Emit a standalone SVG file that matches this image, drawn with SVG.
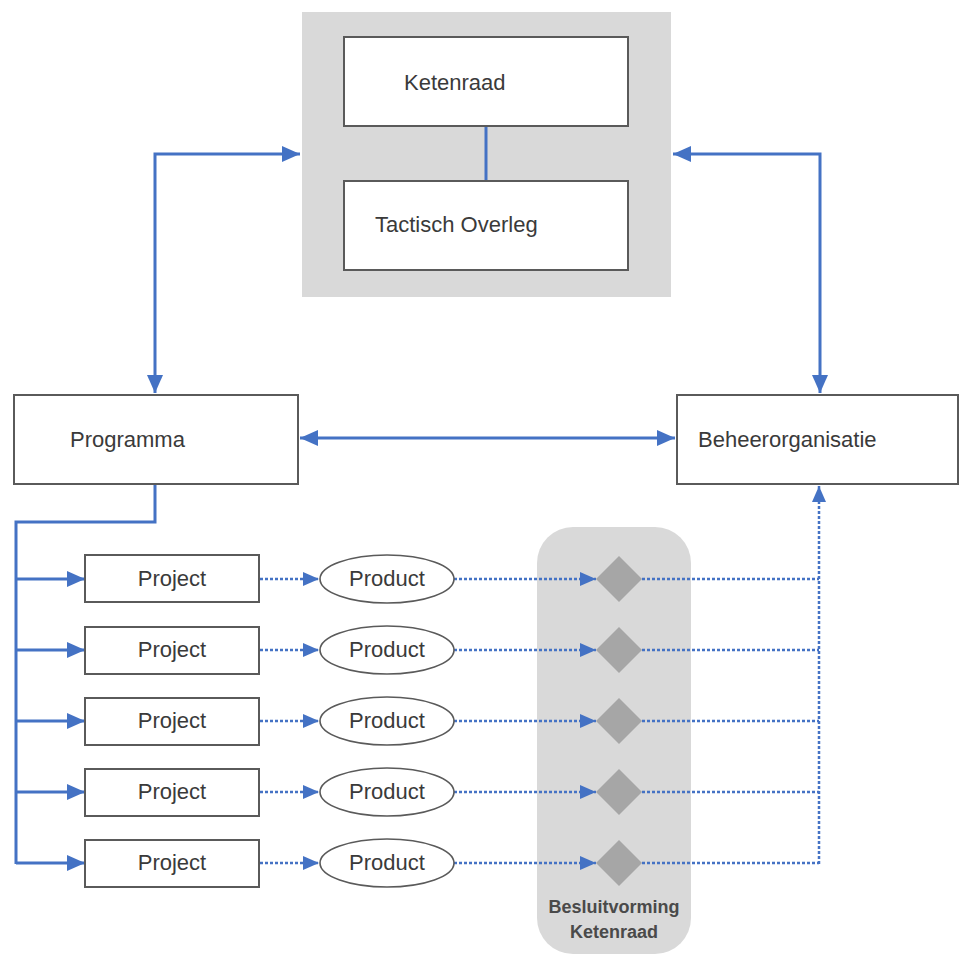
<svg xmlns="http://www.w3.org/2000/svg" width="960" height="956" viewBox="0 0 960 956">
<style>
.bg{fill:#d9d9d9}
.box{fill:#fff;stroke:#5a5a5a;stroke-width:2}
.ell{fill:#fff;stroke:#5a5a5a;stroke-width:1.6}
.dia{fill:#a6a6a6}
.t{font-family:"Liberation Sans",Arial,sans-serif;font-size:22px;fill:#3a3a3a}
.c{text-anchor:middle}
.b{font-size:18px;font-weight:bold;fill:#4a4a4a}
.s{fill:none;stroke:#4472c4;stroke-width:3}
.d{fill:none;stroke:#4472c4;stroke-width:2.5;stroke-dasharray:3 2}
</style>
<defs>
<marker id="a" markerUnits="userSpaceOnUse" markerWidth="18" markerHeight="16" viewBox="0 0 18 16" refX="18" refY="8" orient="auto-start-reverse">
<path d="M0,0 L18,8 L0,16 z" fill="#4472c4"/>
</marker>
<marker id="ad" markerUnits="userSpaceOnUse" markerWidth="16" markerHeight="14" viewBox="0 0 16 14" refX="16" refY="7" orient="auto">
<path d="M0,0 L16,7 L0,14 z" fill="#4472c4"/>
</marker>
</defs>

<g id="bestuur">
<rect class="bg" x="302" y="12" width="369" height="285"/>
</g>
<g id="besluitvorming">
<rect class="bg" x="537" y="527" width="154" height="427" rx="36"/>
<text class="t b c" x="614" y="913">Besluitvorming</text>
<text class="t b c" x="614" y="938">Ketenraad</text>
</g>

<g id="connectors">
<line class="s" x1="486" y1="126" x2="486" y2="181"/>
<path class="s" d="M155,393 V154 H300" marker-start="url(#a)" marker-end="url(#a)"/>
<path class="s" d="M820,393 V154 H673" marker-start="url(#a)" marker-end="url(#a)"/>
<line class="s" x1="300" y1="438" x2="675" y2="438" marker-start="url(#a)" marker-end="url(#a)"/>
<path class="s" d="M155,484 V522 H16 V864"/>
<line class="s" x1="16" y1="579" x2="85" y2="579" marker-end="url(#a)"/>
<line class="s" x1="16" y1="650" x2="85" y2="650" marker-end="url(#a)"/>
<line class="s" x1="16" y1="721" x2="85" y2="721" marker-end="url(#a)"/>
<line class="s" x1="16" y1="792" x2="85" y2="792" marker-end="url(#a)"/>
<line class="s" x1="16" y1="863" x2="85" y2="863" marker-end="url(#a)"/>
<line class="d" x1="260" y1="579" x2="319" y2="579" marker-end="url(#ad)"/>
<line class="d" x1="260" y1="650" x2="319" y2="650" marker-end="url(#ad)"/>
<line class="d" x1="260" y1="721" x2="319" y2="721" marker-end="url(#ad)"/>
<line class="d" x1="260" y1="792" x2="319" y2="792" marker-end="url(#ad)"/>
<line class="d" x1="260" y1="863" x2="319" y2="863" marker-end="url(#ad)"/>
<line class="d" x1="454" y1="579" x2="596" y2="579" marker-end="url(#ad)"/>
<line class="d" x1="454" y1="650" x2="596" y2="650" marker-end="url(#ad)"/>
<line class="d" x1="454" y1="721" x2="596" y2="721" marker-end="url(#ad)"/>
<line class="d" x1="454" y1="792" x2="596" y2="792" marker-end="url(#ad)"/>
<line class="d" x1="454" y1="863" x2="596" y2="863" marker-end="url(#ad)"/>
<line class="d" x1="642" y1="579" x2="819" y2="579"/>
<line class="d" x1="642" y1="650" x2="819" y2="650"/>
<line class="d" x1="642" y1="721" x2="819" y2="721"/>
<line class="d" x1="642" y1="792" x2="819" y2="792"/>
<line class="d" x1="642" y1="863" x2="819" y2="863"/>
<line class="d" x1="819" y1="864" x2="819" y2="486" marker-end="url(#ad)"/>
</g>

<g id="ketenraad">
<rect class="box" x="344" y="37" width="284" height="89"/>
<text class="t" x="404" y="90">Ketenraad</text>
</g>
<g id="tactisch-overleg">
<rect class="box" x="344" y="181" width="284" height="89"/>
<text class="t" x="375" y="232">Tactisch Overleg</text>
</g>
<g id="programma">
<rect class="box" x="14" y="395" width="284" height="89"/>
<text class="t" x="70" y="447">Programma</text>
</g>
<g id="beheerorganisatie">
<rect class="box" x="677" y="395" width="281" height="89"/>
<text class="t" x="698" y="447">Beheerorganisatie</text>
</g>

<g id="project1"><rect class="box" x="85" y="555" width="174" height="47"/><text class="t c" x="172" y="586">Project</text></g>
<g id="project2"><rect class="box" x="85" y="627" width="174" height="47"/><text class="t c" x="172" y="657">Project</text></g>
<g id="project3"><rect class="box" x="85" y="698" width="174" height="47"/><text class="t c" x="172" y="728">Project</text></g>
<g id="project4"><rect class="box" x="85" y="769" width="174" height="47"/><text class="t c" x="172" y="799">Project</text></g>
<g id="project5"><rect class="box" x="85" y="840" width="174" height="47"/><text class="t c" x="172" y="870">Project</text></g>

<g id="product1"><ellipse class="ell" cx="387" cy="579" rx="67" ry="24"/><text class="t c" x="387" y="586">Product</text></g>
<g id="product2"><ellipse class="ell" cx="387" cy="650" rx="67" ry="24"/><text class="t c" x="387" y="657">Product</text></g>
<g id="product3"><ellipse class="ell" cx="387" cy="721" rx="67" ry="24"/><text class="t c" x="387" y="728">Product</text></g>
<g id="product4"><ellipse class="ell" cx="387" cy="792" rx="67" ry="24"/><text class="t c" x="387" y="799">Product</text></g>
<g id="product5"><ellipse class="ell" cx="387" cy="863" rx="67" ry="24"/><text class="t c" x="387" y="870">Product</text></g>

<g id="besluit1"><path class="dia" d="M619,556 L642,579 L619,602 L596,579 z"/></g>
<g id="besluit2"><path class="dia" d="M619,627 L642,650 L619,673 L596,650 z"/></g>
<g id="besluit3"><path class="dia" d="M619,698 L642,721 L619,744 L596,721 z"/></g>
<g id="besluit4"><path class="dia" d="M619,769 L642,792 L619,815 L596,792 z"/></g>
<g id="besluit5"><path class="dia" d="M619,840 L642,863 L619,886 L596,863 z"/></g>
</svg>
